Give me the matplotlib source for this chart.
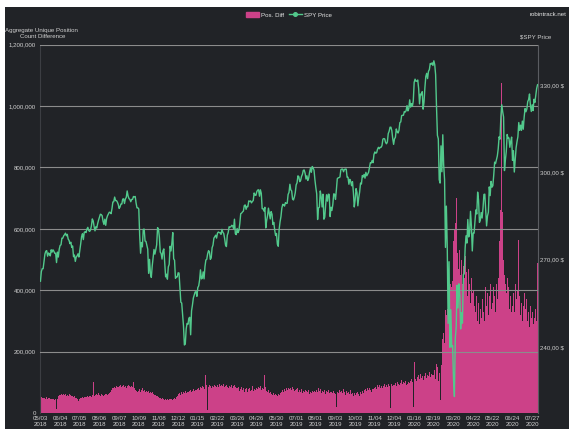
import numpy as np
import matplotlib
matplotlib.use("Agg")
import matplotlib.pyplot as plt
from matplotlib.patches import Rectangle, Patch
from matplotlib.lines import Line2D
from matplotlib.ticker import FuncFormatter

plt.rcParams['font.family'] = ['Liberation Sans', 'DejaVu Sans']

# ---------------- data ----------------
tick_dates = ["05/03", "06/04", "07/05", "08/06", "09/07", "10/09", "11/08", "12/12",
              "01/15", "02/22", "03/26", "04/26", "05/30", "07/01", "08/01", "09/03",
              "10/03", "11/04", "12/04", "01/16", "02/19", "03/20", "04/22", "05/22",
              "06/24", "07/27"]
tick_years = ["2018"] * 8 + ["2019"] * 11 + ["2020"] * 7

# SPY price, one value per data day (segments between tick labels)
spy_price = [
    262.6, 265.9, 266.9, 266.9, 269.4, 271.9, 272.9, 273.1, 271.2, 272.3, 272.0, 271.3, 273.4, 272.6, 273.4, 272.9, 272.2, 272.2, 269.0, 272.6, 270.9, 273.6,
    274.9, 275.1, 277.4, 277.4, 278.2, 278.6, 279.1, 278.2, 278.7, 277.1, 276.6, 275.5, 276.0, 274.2, 274.7, 271.0, 271.6, 269.4, 270.9, 271.3, 272.0, 270.9,
    273.1, 275.4, 277.9, 278.9, 276.9, 279.4, 279.6, 279.3, 280.5, 281.1, 280.0, 279.7, 280.2, 281.6, 284.0, 283.3, 281.4, 279.9, 281.3, 280.9, 282.4, 283.6,
    284.6, 285.6, 285.5, 285.1, 283.2, 282.1, 283.9, 281.8, 284.1, 285.1, 285.7, 286.3, 286.2, 285.8, 287.5, 289.8, 289.9, 291.5, 290.3, 290.3, 289.8, 289.0,
    287.6, 288.1, 289.1, 289.1, 290.8, 290.9, 289.3, 290.9, 291.4, 293.6, 291.9, 291.0, 290.7, 289.9, 290.7, 290.7, 291.7, 291.6, 291.7, 289.4, 287.8, 287.8,
    287.4, 278.3, 272.2, 275.9, 274.4, 280.4, 280.5, 276.4, 276.3, 275.0, 273.6, 265.3, 270.1, 265.3, 263.9, 267.8, 270.6, 273.5, 271.9, 273.4, 275.1, 281.0,
    280.5, 277.8, 272.6, 272.1, 270.2, 273.0, 273.7, 269.1, 264.1, 265.0, 263.3, 267.5, 268.4, 274.6, 273.0, 275.7, 279.3, 270.3, 269.8, 263.6, 264.1, 264.1,
    265.5, 265.4, 260.5, 255.4, 255.1, 251.3, 247.2, 240.7, 241.0, 246.2, 248.1, 247.8, 249.9, 250.2, 244.2, 252.4, 254.4, 256.8, 257.9, 258.9, 259.0, 257.4,
    260.4, 261.0, 263.0, 266.5, 263.4, 263.6, 265.8, 263.4, 267.6, 269.9, 270.1, 272.0, 273.1, 272.7, 270.1, 270.6, 274.1, 275.0, 277.4, 277.9, 278.4, 277.4,
    279.1, 279.5, 279.3, 279.2, 278.7, 280.4, 279.4, 279.0, 277.3, 275.0, 274.5, 278.4, 279.3, 281.3, 281.2, 281.3, 281.8, 281.6, 280.7, 283.9, 278.9, 278.6,
    280.7, 279.3, 280.0, 282.5, 285.8, 286.0, 286.4, 286.7, 288.6, 288.8, 287.3, 288.3, 288.2, 290.2, 290.0, 290.2, 289.5, 290.0, 290.3, 292.9, 292.2, 292.1,
    293.4, 293.9, 294.0, 291.8, 294.0, 292.8, 287.5, 287.5, 286.7, 288.0, 280.9, 283.4, 285.1, 287.7, 285.8, 284.0, 286.5, 285.6, 282.1, 282.8, 280.2, 278.3,
    279.0, 275.3, 274.6, 280.5, 283.0, 284.8, 287.7, 289.0, 288.9, 288.4, 289.6, 289.3, 289.4, 292.4, 293.1, 295.9, 294.0, 293.6, 290.8, 290.5, 291.5, 293.0,
    295.7, 296.4, 298.8, 298.5, 296.8, 297.2, 298.6, 299.3, 300.7, 300.8, 299.7, 297.7, 298.8, 297.2, 298.0, 300.0, 301.4, 300.0, 302.0, 301.5, 300.7, 297.4,
    294.8, 292.6, 283.8, 287.8, 288.0, 293.6, 291.6, 288.1, 292.5, 283.9, 284.6, 288.9, 292.3, 290.1, 292.5, 292.4, 284.8, 288.0, 286.9, 288.9, 292.6, 292.5,
    290.7, 294.0, 297.8, 298.1, 298.2, 298.4, 300.9, 301.1, 301.1, 300.2, 301.0, 301.1, 301.1, 298.3, 298.3, 295.9, 297.6, 296.9, 295.4, 296.8, 293.2, 288.1,
    290.6, 294.4, 293.1, 288.5, 291.3, 293.2, 296.3, 296.0, 298.9, 298.4, 299.3, 298.0, 300.0, 298.8, 299.4, 300.0, 301.6, 303.3, 303.2, 304.1, 303.3, 306.1,
    307.0, 306.6, 306.7, 307.9, 308.6, 308.1, 308.6, 308.6, 309.2, 311.4, 311.6, 311.5, 310.3, 309.8, 310.4, 313.3, 314.1, 315.5, 315.5, 314.3, 311.6, 309.6,
    311.5, 312.0, 314.9, 313.9, 313.5, 314.4, 317.1, 317.3, 319.5, 319.6, 319.6, 320.9, 320.7, 321.2, 322.9, 321.1, 321.9, 324.9, 322.4, 323.6, 322.7, 324.5,
    330.9, 332.0, 331.3, 331.3, 331.7, 328.8, 323.5, 326.9, 326.6, 327.7, 321.7, 324.1, 329.1, 332.9, 334.0, 332.2, 334.7, 335.3, 337.4, 337.1, 337.6, 336.7,
    338.3, 337.0, 333.5, 322.4, 312.7, 311.5, 297.5, 296.3, 309.1, 300.2, 312.9, 302.5, 297.5, 274.2, 288.4, 274.4, 248.1, 269.3, 239.9, 252.8, 240.0, 240.5,
    228.8, 223.0, 243.2, 246.8, 261.2, 253.4, 261.7, 257.8, 246.2, 251.8, 248.2, 264.9, 265.1, 274.0, 278.2, 275.7, 283.8, 277.8, 279.1, 286.6, 281.6, 273.0,
    279.1, 279.1, 283.0, 287.1, 285.7, 293.2, 290.5, 282.8, 283.6, 286.2, 284.3, 287.7, 292.4, 292.5, 286.7, 281.6, 285.0, 286.3, 295.0, 292.0, 296.9, 294.9,
    295.4, 299.1, 303.5, 303.0, 304.3, 305.6, 308.1, 312.2, 311.4, 319.3, 323.2, 320.8, 319.0, 300.6, 304.2, 307.1, 313.0, 311.7, 311.8, 308.6, 310.6, 312.1,
    304.1, 307.4, 300.1, 304.5, 308.4, 310.5, 312.2, 317.1, 314.4, 316.2, 314.4, 317.6, 314.8, 318.9, 321.9, 320.8, 321.7, 324.3, 325.0, 326.9, 323.0, 320.9,
    323.2, 321.2, 325.1, 324.0, 326.5, 328.8, 330.1,
]

# Aggregate unique position count difference, in thousands
pos_diff_k = [
    55, 52, 50, 48, 52, 49, 47, 51, 46, 50, 48, 45, 47, 44, 49, 46, 43, 45, 12, 47, 55, 58,
    60, 57, 62, 59, 63, 58, 61, 56, 60, 57, 62, 55, 58, 54, 57, 52, 55, 50, 48, 46, 43, 40,
    45, 48, 50, 52, 49, 51, 53, 50, 52, 55, 51, 54, 56, 53, 58, 100, 55, 57, 60, 62, 58, 64,
    60, 57, 62, 58, 60, 56, 59, 63, 61, 58, 62, 65, 70, 74, 78, 82, 80, 85, 83, 88, 84, 86,
    88, 85, 90, 84, 87, 92, 86, 89, 83, 88, 91, 85, 87, 84, 88, 86, 102, 80, 76, 72, 70, 68,
    72, 78, 70, 75, 80, 73, 76, 69, 74, 71, 68, 72, 66, 70, 64, 67, 62, 65, 60, 58, 55, 57,
    52, 48, 50, 46, 44, 49, 45, 42, 47, 43, 45, 41, 46, 44, 48, 45, 43, 47, 50, 46, 52, 55,
    62, 58, 65, 60, 68, 63, 70, 66, 72, 64, 69, 74, 67, 71, 76, 70, 73, 78, 72, 75, 80, 74,
    78, 82, 76, 85, 80, 88, 84, 79, 86, 124, 90, 10, 85, 92, 87, 83, 89, 94, 86, 91, 88, 84,
    90, 86, 93, 88, 82, 91, 87, 95, 84, 89, 92, 86, 80, 88, 94, 85, 90, 83, 87, 92, 86, 81,
    80, 76, 84, 72, 79, 86, 74, 81, 70, 77, 83, 75, 69, 78, 82, 73, 76, 88, 71, 79, 84, 75,
    82, 78, 85, 80, 88, 76, 83, 79, 90, 124, 86, 72, 68, 74, 65, 70, 62, 67, 60, 64, 58, 63,
    60, 56, 63, 58, 65, 62, 70, 74, 68, 77, 72, 80, 76, 83, 107, 78, 82, 75, 84, 79, 73, 76,
    78, 72, 80, 68, 75, 70, 77, 66, 73, 69, 76, 64, 71, 67, 74, 62, 70, 65, 72, 68, 63, 71,
    70, 75, 68, 82, 73, 78, 66, 71, 80, 69, 74, 63, 72, 67, 76, 65, 70, 61, 68, 64, 73, 66,
    62, 20, 70, 66, 74, 61, 68, 72, 64, 78, 67, 60, 71, 65, 58, 69, 63, 74, 61, 66, 57, 64,
    60, 66, 58, 70, 63, 57, 68, 62, 72, 65, 75, 69, 78, 71, 80, 74, 82, 76, 70, 79, 84, 77,
    80, 86, 78, 90, 84, 92, 81, 88, 95, 83, 89, 93, 86, 91, 84, 96, 88, 92, 15, 94, 87, 90,
    92, 98, 88, 101, 95, 104, 90, 99, 106, 94, 100, 97, 103, 92, 108, 96, 102, 99, 105, 110, 100, 18,
    165, 112, 120, 105, 118, 125, 110, 128, 115, 122, 108, 126, 119, 130, 114, 124, 121, 132, 117, 128, 180, 125,
    125, 140, 110, 160, 150, 105, 130, 42, 170, 155, 240, 260, 228, 335, 320, 340, 310, 540, 330, 420, 410, 430,
    560, 600, 620, 700, 520, 580, 470, 530, 450, 500, 420, 480, 440, 510, 400, 460, 380, 470, 420, 360, 440, 390,
    400, 350, 430, 330, 380, 300, 360, 290, 340, 310, 370, 280, 330, 300, 410, 350, 390, 320, 380, 420, 340, 400,
    360, 410, 380, 330, 420, 370, 440, 560, 650, 660, 1075, 655, 500, 450, 420, 390, 440, 360, 410, 340, 380, 330,
    350, 390, 330, 420, 370, 340, 400, 563, 380, 320, 360, 300, 350, 390, 310, 340, 370, 300, 330, 280, 350, 310,
    330, 290, 360, 310, 340, 300, 490,
]

left_ticks = [0, 200000, 400000, 600000, 800000, 1000000, 1200000]
right_ticks = [240, 270, 300, 330]

# ---------------- style ----------------
BG = '#212327'
PINK = '#cc4188'
GREEN = '#52c98c'
GRID = '#8c8c8c'
TXT = '#d0d0d0'
FS = 4.4

W, H = 569, 429
fig = plt.figure(figsize=(W / 100, H / 100), dpi=100, facecolor='white')
fig.patches.append(Rectangle((5 / W, 0), 1, (H - 7) / H, transform=fig.transFigure,
                             facecolor=BG, edgecolor='none', zorder=-10))

ax = fig.add_axes([40 / W, 16 / H, 498 / W, (413 - 44.7) / H])
ax.set_facecolor('none')

x = np.arange(len(spy_price))
pos_vals = np.array(pos_diff_k) * 1000

ax.bar(x, pos_vals, width=1.0, color=PINK, linewidth=0, zorder=1)
ax.set_xlim(-0.5, len(x) - 0.5)
ax.set_ylim(0, 1200000)
ax.set_yticks(left_ticks)
ax.yaxis.set_major_formatter(FuncFormatter(lambda v, p: f"{v:,.0f}"))
ax.set_axisbelow(False)
ax.grid(axis='y', color=GRID, linewidth=0.8)
ax.grid(axis='x', visible=False)
ax.get_yaxis().get_major_ticks()[0].gridline.set_visible(False)

ax.set_xticks(list(range(0, 22 * len(tick_dates), 22)))
ax.set_xticklabels([f"{d}\n{y}" for d, y in zip(tick_dates, tick_years)],
                   linespacing=1.05)
ax.tick_params(axis='x', length=0, pad=2.5, labelsize=FS, labelcolor=TXT)
ax.tick_params(axis='y', length=0, pad=3, labelsize=FS, labelcolor=TXT)

for s in ['top', 'bottom', 'right']:
    ax.spines[s].set_visible(False)
ax.spines['left'].set_color('#3c3e43')
ax.spines['left'].set_linewidth(0.8)

ax2 = ax.twinx()
ax2.plot(x, spy_price, color=GREEN, linewidth=1.0, zorder=3)
ax2.set_ylim(217.33, 343.84)
ax2.set_yticks(right_ticks)
ax2.set_yticklabels([f"{v:.2f}".replace('.', ',') + r" \$" for v in right_ticks])
ax2.tick_params(axis='y', length=0, pad=1.5, labelsize=FS, labelcolor=TXT)
for s in ['top', 'bottom', 'left']:
    ax2.spines[s].set_visible(False)
ax2.spines['right'].set_color('#5a5c61')
ax2.spines['right'].set_linewidth(0.8)

# texts
fig.text(41 / W, 1 - 30.5 / H, "Aggregate Unique Position", ha='center', va='center',
         fontsize=FS, color=TXT)
fig.text(43 / W, 1 - 37 / H, "Count Difference", ha='center', va='center',
         fontsize=FS, color=TXT)
fig.text(536 / W, 1 - 37 / H, r"\$SPY Price", ha='center', va='center',
         fontsize=FS, color=TXT)
fig.text(567 / W, 1 - 15 / H, "robintrack.net", ha='right', va='center',
         fontsize=FS, color='#e6e6e6')

handles = [Patch(facecolor=PINK, edgecolor=PINK, label='Pos. Diff'),
           Line2D([], [], color=GREEN, marker='o', markersize=2.6, linewidth=1.0,
                  label='SPY Price')]
fig.legend(handles=handles, loc='center', bbox_to_anchor=(289 / W, 1 - 15 / H),
           ncol=2, frameon=False, fontsize=FS, labelcolor='#e6e6e6',
           handlelength=2.1, handleheight=0.9, handletextpad=0.35,
           columnspacing=0.7, borderpad=0, borderaxespad=0)

fig.savefig('out.png', dpi=100, facecolor=fig.get_facecolor())
